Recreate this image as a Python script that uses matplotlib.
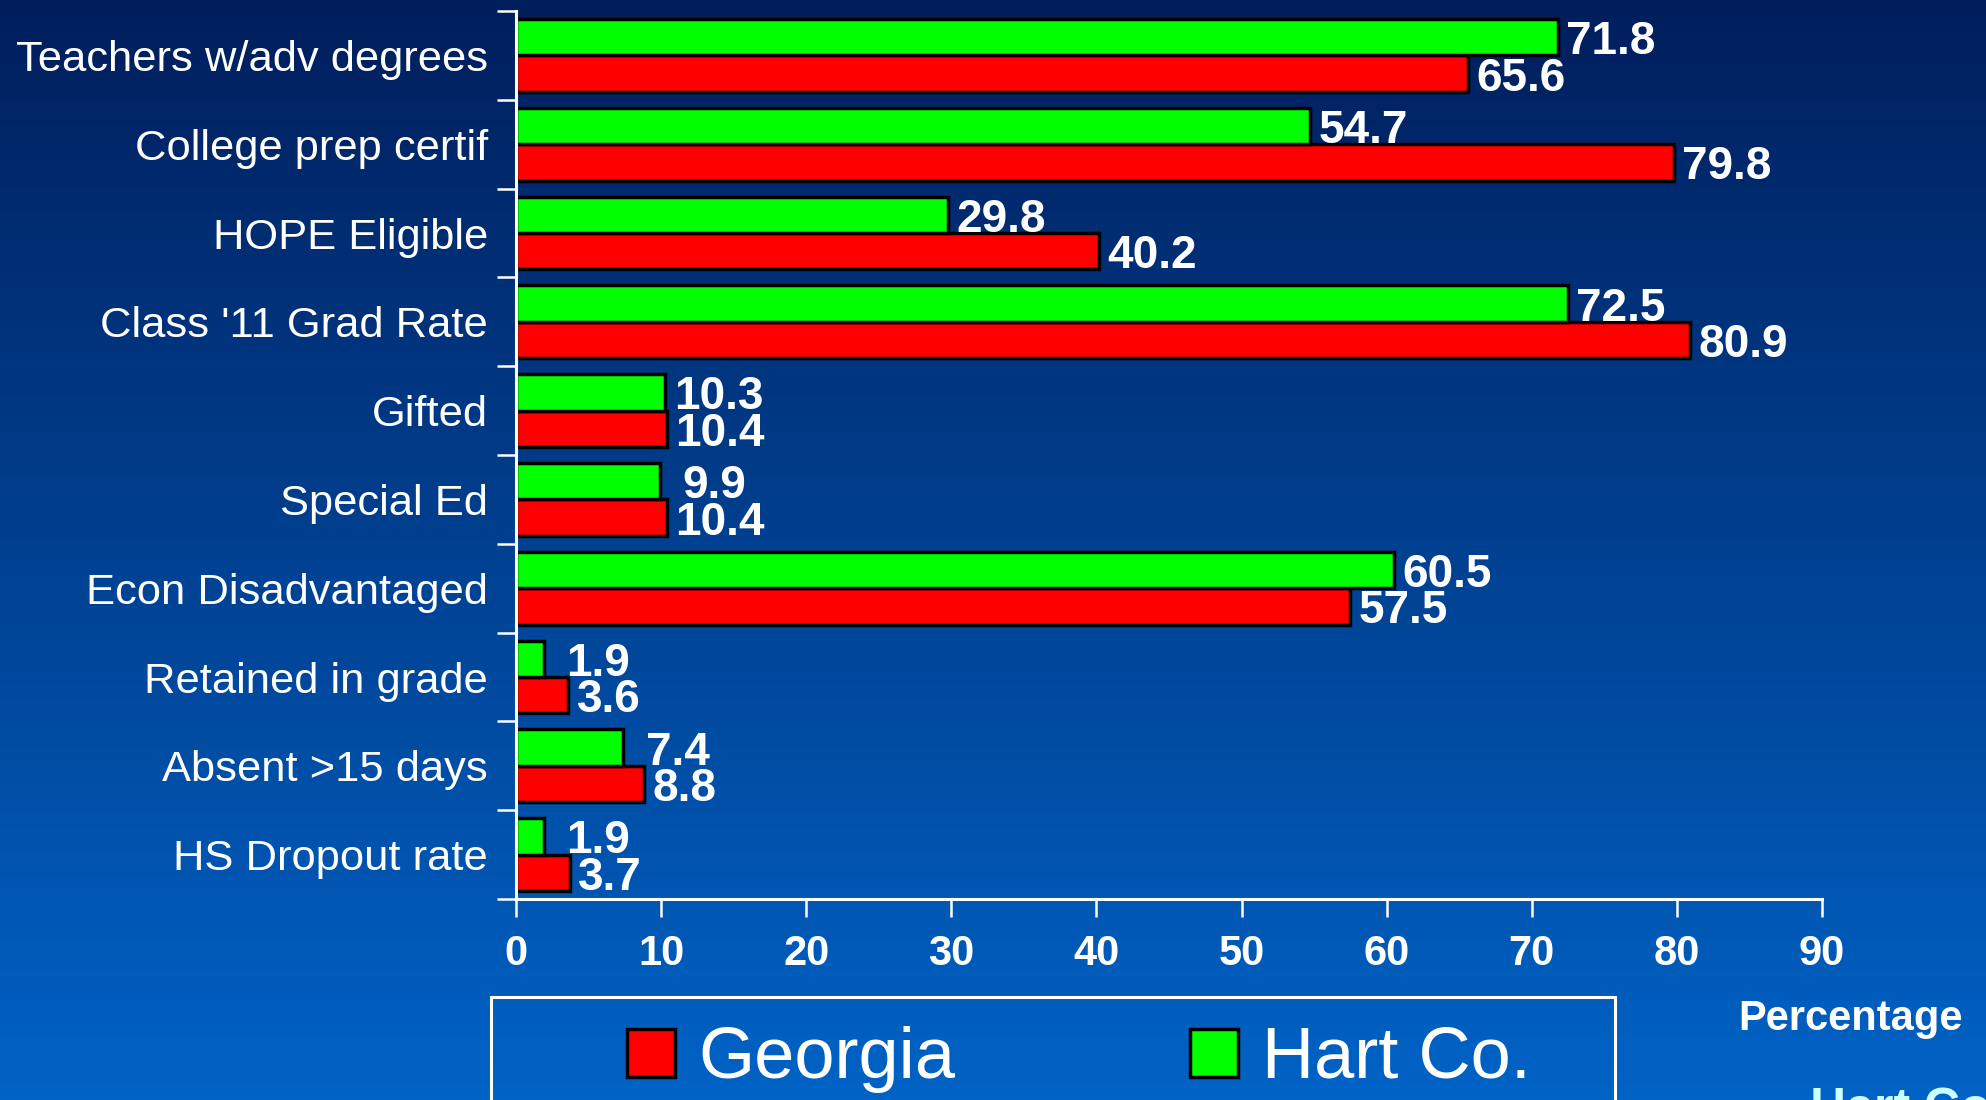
import numpy as np
import matplotlib
matplotlib.use("Agg")
import matplotlib.pyplot as plt
from matplotlib.patches import Rectangle
from matplotlib.colors import LinearSegmentedColormap

categories = ["Teachers w/adv degrees", "College prep certif", "HOPE Eligible",
              "Class '11 Grad Rate", "Gifted", "Special Ed", "Econ Disadvantaged",
              "Retained in grade", "Absent >15 days", "HS Dropout rate"]
georgia = [65.6, 79.8, 40.2, 80.9, 10.4, 10.4, 57.5, 3.6, 8.8, 3.7]
hart = [71.8, 54.7, 29.8, 72.5, 10.3, 9.9, 60.5, 1.9, 7.4, 1.9]
xticks = [0, 10, 20, 30, 40, 50, 60, 70, 80, 90]

plt.rcParams['font.family'] = ['Liberation Sans', 'DejaVu Sans']

fig = plt.figure(figsize=(19.86, 11), dpi=100)

# background gradient
bg = fig.add_axes([0, 0, 1, 1], zorder=-10)
cmap = LinearSegmentedColormap.from_list("bg", ["#001E5C", "#0063C6"])
bg.imshow(np.linspace(0, 1, 256).reshape(-1, 1), aspect="auto", cmap=cmap,
          extent=[0, 1, 0, 1], origin="upper")
bg.axis("off")

ax = fig.add_axes([516 / 1986, 1 - 899 / 1100, (1822 - 516) / 1986, (899 - 11) / 1100])
ax.set_facecolor("none")

y = np.arange(len(categories))
h = 0.41
bars_g = ax.barh(y + h / 2, georgia, height=h, color="#FF0000", edgecolor="black", linewidth=2.5)
bars_h = ax.barh(y - h / 2, hart, height=h, color="#00FF00", edgecolor="black", linewidth=2.5)

for yy, v in zip(y, hart):
    off = 16 if v < 10 else 6
    ax.annotate(f"{v:.1f}", (v, yy - h / 2), xytext=(off, 0), textcoords="offset points",
                ha="left", va="center_baseline", color="white", fontsize=33, fontweight="bold")
for yy, v in zip(y, georgia):
    ax.annotate(f"{v:.1f}", (v, yy + h / 2), xytext=(6, 0), textcoords="offset points",
                ha="left", va="center_baseline", color="white", fontsize=33, fontweight="bold")

ax.set_xlim(0, 90)
ax.set_ylim(len(categories) - 0.5, -0.5)
ax.set_xticks(xticks)
ax.set_yticks(y, categories)
ax.set_yticks(np.arange(-0.5, len(categories), 1), minor=True)
ax.tick_params(axis="y", which="major", length=0, pad=20, labelsize=31.3, labelcolor="white")
ax.tick_params(axis="y", which="minor", length=13.7, width=1.8, color="white", direction="out")
ax.tick_params(axis="x", length=13, width=1.8, color="white", direction="out", pad=12,
               labelsize=30, labelcolor="white")
for lab in ax.get_xticklabels():
    lab.set_fontweight("bold")

for s in ["top", "right"]:
    ax.spines[s].set_visible(False)
for s in ["left", "bottom"]:
    ax.spines[s].set_color("white")
    ax.spines[s].set_linewidth(2.2)

ax.set_xlabel("Percentage", fontsize=30, fontweight="bold", color="white", ha="center", va="center")
ax.xaxis.set_label_coords(1.022, -0.135)

# legend
frame = Rectangle((491 / 1986, -0.05), (1615 - 491) / 1986, 0.05 + (1100 - 997) / 1100,
                  transform=fig.transFigure, fill=False, edgecolor="white", linewidth=2.2,
                  clip_on=False)
fig.patches.append(frame)
fig.legend([bars_g, bars_h], ["Georgia", "Hart Co."], loc="upper left",
           bbox_to_anchor=(627 / 1986, 1 - 1026 / 1100), ncol=2, frameon=False,
           borderpad=0, borderaxespad=0, handlelength=0.66, handleheight=0.65,
           handletextpad=0.33, columnspacing=3.25,
           prop={"family": ["Liberation Sans Narrow", "Liberation Sans"], "size": 52},
           labelcolor="white")

fig.text(1810 / 1986, 1 - 1087 / 1100, "Hart County", color="#CCFFFF", fontsize=36,
         fontweight="bold", ha="left", va="top")

plt.savefig("out.png", dpi=100)
